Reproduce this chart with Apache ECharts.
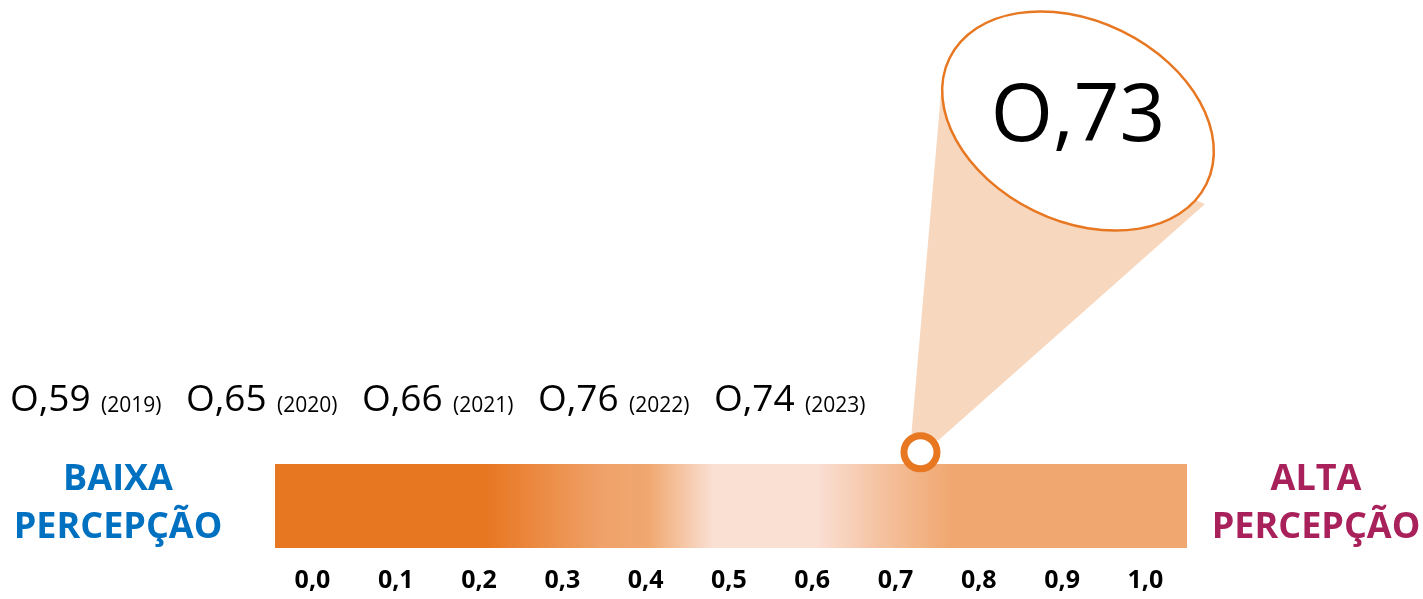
<!DOCTYPE html>
<html>
<head>
<meta charset="utf-8">
<script src="https://cdn.jsdelivr.net/npm/echarts@6/dist/echarts.min.js"></script>
<style>
  html, body { margin: 0; padding: 0; background: #fff; }
  #chart { width: 1423px; height: 599px; }
</style>
</head>
<body>
<div id="chart"></div>
<script>
// dados da escala de percepção
const years = ['2019', '2020', '2021', '2022', '2023'];
const yearValues = [0.59, 0.65, 0.66, 0.76, 0.74];
const currentValue = 0.73;
const tickValues = [0, 0.1, 0.2, 0.3, 0.4, 0.5, 0.6, 0.7, 0.8, 0.9, 1.0];
const lowLabel = 'BAIXA\nPERCEPÇÃO';
const highLabel = 'ALTA\nPERCEPÇÃO';

// o original escreve a letra "O" no lugar do zero
function fmtO(v) {
  return 'O,' + String(Math.round(v * 100)).padStart(2, '0');
}

const FONT = '"Open Sans", "Noto Sans", sans-serif';
const chart = echarts.init(document.getElementById('chart'));

const barGradient = new echarts.graphic.LinearGradient(0, 0, 1, 0, [
  { offset: 0, color: '#E87722' },
  { offset: 0.232, color: '#E87722' },
  { offset: 0.36, color: '#EFA26A' },
  { offset: 0.41, color: '#F0A870' },
  { offset: 0.48, color: '#FADFD3' },
  { offset: 0.595, color: '#FADFD3' },
  { offset: 0.66, color: '#F5C3A3' },
  { offset: 0.74, color: '#F0A870' },
  { offset: 1, color: '#F0A870' }
]);

const option = {
  animation: false,
  grid: {
    left: 275,
    width: 912,
    top: 464,
    height: 84,
    show: true,
    borderWidth: 0,
    backgroundColor: barGradient
  },
  xAxis: {
    type: 'value',
    min: -0.045,
    max: 1.05,
    axisLine: { show: false },
    axisTick: { show: false },
    splitLine: { show: false },
    axisLabel: {
      customValues: tickValues,
      margin: 20,
      color: '#000',
      fontSize: 25,
      fontWeight: 'bold',
      fontFamily: FONT,
      formatter: v => v.toFixed(1).replace('.', ',')
    }
  },
  yAxis: {
    type: 'value',
    min: 0,
    max: 1,
    show: false
  },
  series: [
    {
      type: 'scatter',
      data: [[currentValue, 1.14]],
      symbol: 'circle',
      symbolSize: 33,
      clip: false,
      z: 10,
      itemStyle: {
        color: '#fff',
        borderColor: '#E87722',
        borderWidth: 7,
        opacity: 1
      }
    }
  ]
};

chart.setOption(option);

// elementos do balão, ligados à posição do marcador
const p = chart.convertToPixel({ gridIndex: 0 }, [currentValue, 1.14]);
const graphics = [
  {
    type: 'polygon',
    z: 1,
    shape: { points: [[p[0] - 9, p[1] - 19], [941, 93], [1205, 204], [p[0] + 18, p[1] - 12]] },
    style: { fill: '#F7D7BE' }
  },
  {
    type: 'ellipse',
    z: 3,
    x: 1078,
    y: 121,
    rotation: -26 * Math.PI / 180,
    shape: { cx: 0, cy: 0, rx: 143, ry: 100 },
    style: { fill: '#fff', stroke: '#E87722', lineWidth: 2.5 }
  },
  {
    type: 'text',
    z: 4,
    x: 1078,
    y: 118,
    style: {
      text: fmtO(currentValue),
      fontSize: 80,
      fontFamily: FONT,
      fill: '#000',
      align: 'center',
      verticalAlign: 'middle'
    }
  },
  {
    type: 'text',
    z: 4,
    x: 118,
    y: 504,
    style: {
      text: lowLabel,
      fontSize: 36,
      fontWeight: 'bold',
      fontFamily: FONT,
      lineHeight: 48,
      fill: '#0070C0',
      align: 'center',
      verticalAlign: 'middle'
    }
  },
  {
    type: 'text',
    z: 4,
    x: 1316,
    y: 504,
    style: {
      text: highLabel,
      fontSize: 36,
      fontWeight: 'bold',
      fontFamily: FONT,
      lineHeight: 48,
      fill: '#A9215A',
      align: 'center',
      verticalAlign: 'middle'
    }
  }
];

// valores dos anos anteriores
years.forEach((y, i) => {
  const x0 = 10 + i * 176;
  graphics.push({
    type: 'text', z: 4, x: x0, y: 400,
    style: { text: fmtO(yearValues[i]), fontSize: 37, fontFamily: FONT, fill: '#000', align: 'left', verticalAlign: 'middle' }
  });
  graphics.push({
    type: 'text', z: 4, x: x0 + 91, y: 406,
    style: { text: '(' + y + ')', fontSize: 21, fontFamily: FONT, fill: '#000', align: 'left', verticalAlign: 'middle' }
  });
});

chart.setOption({ graphic: graphics });

window.addEventListener('resize', () => chart.resize());
</script>
</body>
</html>
